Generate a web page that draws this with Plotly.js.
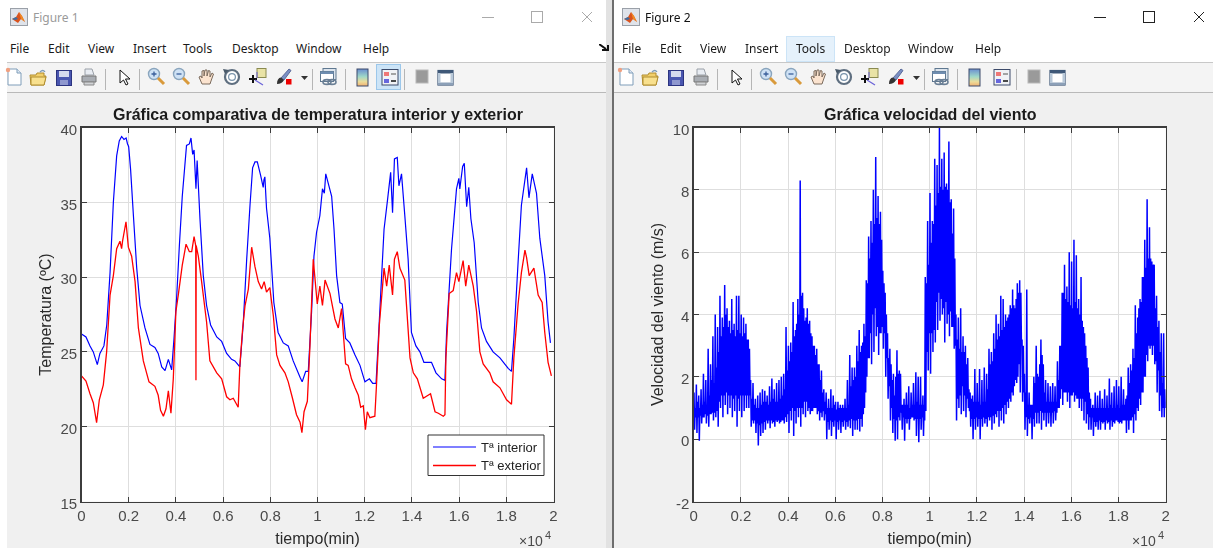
<!DOCTYPE html>
<html><head><meta charset="utf-8">
<script src="https://cdn.plot.ly/plotly-3.0.1.min.js"></script>
<style>
html,body{margin:0;padding:0;background:#fff;width:1213px;height:548px;overflow:hidden}
#stage{position:absolute;left:0;top:0;width:1213px;height:548px;filter:blur(0.35px)}
#chrome{position:absolute;left:0;top:0;width:1213px;height:548px;overflow:hidden;font-family:"Noto Sans","Open Sans",sans-serif}
#plot{position:absolute;left:0;top:0;width:1213px;height:548px}
.m{position:absolute;font-size:12px;line-height:16px;color:#1a1a1a;white-space:nowrap}
.b{position:absolute}
.b svg{display:block}
</style></head><body>
<div id="stage"><div id="chrome"></div><div id="plot"></div></div>
<script>
// ---- Figure 1: temperature (minutes, ºC) ----
const interiorX=[0,190,360,500,670,780,950,1070,1210,1350,1490,1600,1700,1800,1890,1950,1980,2000,2080,2200,2340,2480,2690,2900,3110,3250,3400,3540,3680,3820,3920,4030,4150,4270,4450,4570,4640,4710,4770,4850,4900,5020,5160,5300,5470,5730,5940,6150,6360,6500,6710,6850,7000,7140,7250,7350,7450,7590,7700,7730,7770,7840,7980,8150,8330,8550,8760,8970,9260,9350,9500,9610,9750,9850,9960,10100,10210,10290,10350,10450,10600,10700,10810,10950,11050,11190,11370,11590,11800,12010,12200,12340,12480,12580,12820,12970,13100,13180,13260,13380,13450,13560,13700,13840,13980,14170,14340,14510,14830,15020,15260,15400,15470,15680,15890,15990,16030,16150,16220,16320,16410,16500,16640,16810,16950,17160,17440,17730,18080,18220,18320,18500,18640,18860,18960,19100,19280,19420,19630,19770,19870];
const interiorT=[26.2,26,25.4,25,24.15,24.9,25.4,26.8,30.3,35,38.1,39.1,39.4,39.2,39.3,38.9,38.8,38.7,37.2,34.1,30.6,28.1,26.6,25.5,25.3,24.9,24,23.75,24.5,23.8,25.9,28.6,32.2,35.4,38.8,38.9,39.3,38.2,38.5,35.9,37.8,33.9,30.1,28.1,26.8,26,25.7,24.9,24.5,24.4,24,26.8,31.2,34.8,37.3,37.7,37.7,36.8,36,36.5,36.7,34.6,32.6,28.3,26.3,25.6,25.4,24.4,23.3,23,23.7,23.7,27.7,31.4,33,34.1,35.9,35.6,36.9,36.3,35.4,33.2,30.1,28.3,28.2,25.9,25.6,24.8,24.1,23,23.2,22.9,22.9,25.9,33.2,35.2,37,34.3,37.9,38,36.1,36.9,34.1,31.2,26.3,25.4,25,24.3,24.3,23.6,23.2,23.1,26.3,31.9,35.9,36.6,35.9,37.4,37.6,34.7,36,33.9,32.3,28.3,26.6,25.7,25,24.6,23.9,23.7,25.9,31,34.8,37.3,35.3,36.9,35.6,32.6,30.1,27,25.6];
const exteriorX=[0,190,360,500,640,755,925,1065,1210,1350,1490,1630,1700,1740,1885,1985,2125,2270,2410,2620,2860,3110,3250,3350,3470,3580,3680,3790,3890,4000,4100,4270,4430,4570,4670,4770,4840,4850,4860,4950,5090,5300,5440,5730,5940,6150,6290,6430,6640,6710,6830,6930,7070,7210,7350,7490,7630,7740,7840,7980,8130,8270,8410,8620,8760,8940,9110,9260,9340,9430,9570,9680,9820,9990,10100,10210,10320,10530,10740,10880,11020,11120,11190,11300,11440,11590,11730,11830,11940,12030,12110,12220,12430,12500,12620,12820,12930,13040,13180,13260,13380,13490,13700,13920,14060,14230,14480,14790,14980,15120,15330,15400,15440,15580,15750,15890,15990,16170,16280,16410,16600,16740,16880,17020,17300,17440,17730,18010,18220,18320,18500,18640,18790,18860,18970,19170,19350,19520,19630,19770,19910];
const exteriorT=[23.4,23.05,22.2,21.6,20.27,21.8,22.8,25,28.8,30.1,31.9,32.4,31.9,32.4,33.7,32,31.4,29.7,26.6,24.4,23,22.7,22.1,21.1,20.7,21.2,22.4,20.9,23.2,27.7,28.8,30.8,32.2,31.7,31.7,32.7,32.1,23.1,32.1,31.4,29.7,27,24.4,23.6,23.2,22,21.8,21.9,21.3,24.1,26.6,28.1,29.2,32,30.7,29.7,29.2,29.7,29,29.3,27.4,24.8,24.1,23.6,23,21.9,20.8,20.3,19.6,21,21.7,25.4,31.2,28.2,29.4,28.1,29.8,28.9,27.2,26.6,27.9,25.7,24.2,24.1,23.2,22.6,22.1,21.3,21.4,19.8,21,20.6,20.7,22.8,26.8,30.6,29.4,30.8,28.8,31.2,31.7,30.6,29.8,24.6,23.6,23.2,21.9,22.2,21,20.9,20.7,20.8,24.6,28.9,29.1,30.3,29.7,31.1,29.4,30.8,29.4,27.7,25,24.2,23.6,23,22.6,21.8,21.5,24.6,28.2,30.3,31.8,31.3,30.1,30.6,28.8,28.3,26.3,24.3,23.4];
// ---- Figure 2: wind speed. Spike tips, spike troughs and the edges of the solid core of the dense trace, one reading of each every windStep min ----
const windStart=50, windStep=100;
const windHigh=[1.5,1.75,1.4,1.6,2.1,1.9,2.9,2.4,3.3,4.0,
3.6,4.6,3.9,4.95,4.2,3.8,4.5,3.7,4.6,4.6,
4.0,3.9,3.7,3.2,1.9,1.8,1.3,1.4,1.5,1.6,
1.55,1.4,1.7,1.95,1.6,1.8,1.9,2.0,2.1,3.6,
3.0,3.1,4.4,3.5,4.5,8.3,4.7,3.8,4.2,3.8,
3.3,3.0,2.9,2.4,2.2,1.6,1.5,1.3,1.6,1.4,
1.2,1.2,1.1,1.1,1.3,1.9,2.7,2.3,2.3,3.0,
3.5,3.0,3.7,5.1,6.5,7.0,8.0,9.05,7.8,7.3,
5.4,4.7,3.4,2.9,1.9,1.4,2.85,2.2,1.1,1.3,
1.5,1.7,1.5,1.8,2.15,2.0,2.0,1.4,5.2,7.0,
7.9,7.0,9.0,8.8,10.0,9.0,9.2,8.2,9.55,7.7,
7.4,4.0,3.9,4.2,3.3,3.0,2.6,1.5,1.4,2.25,
1.8,2.25,1.9,2.3,2.1,2.9,2.8,3.4,4.0,3.7,
4.6,4.5,4.0,3.9,4.3,4.8,4.2,5.0,5.1,3.2,
2.1,4.8,1.5,1.1,2.0,3.0,2.0,3.2,2.4,1.9,
1.8,1.7,1.8,1.7,2.5,3.0,4.7,5.6,4.9,6.0,
5.7,6.4,5.9,4.5,5.2,3.6,3.0,2.3,1.3,1.1,
1.5,1.4,1.55,1.3,1.6,1.4,1.95,1.5,1.7,1.9,
1.7,2.0,1.6,1.3,2.3,2.4,2.9,4.3,3.9,4.5,
5.2,6.4,7.7,6.8,5.7,5.6,4.6,3.8,3.4,3.4];
const windLow=[0.3,0.2,-0.05,0.5,0.7,0.5,0.4,0.8,0.6,0.7,
0.4,1.0,0.7,1.1,0.8,1.0,0.7,0.9,0.4,0.9,
0.7,0.9,1.0,1.0,0.4,0.5,0.2,-0.2,0.1,0.2,
0.3,0.5,0.35,0.5,0.4,0.55,0.5,0.6,0.5,0.55,
0.2,0.6,0.1,0.5,0.7,0.4,0.8,0.7,0.9,0.8,
0.9,1.0,0.8,0.6,0.7,0.6,0.0,0.3,0.1,0.4,
0.0,0.3,0.2,0.4,0.3,0.4,0.35,0.1,0.3,0.3,
0.25,0.4,1.0,2.0,2.6,2.4,2.8,3.3,2.7,3.4,
2.9,2.0,1.3,0.6,0.2,-0.05,0.0,0.6,0.3,-0.05,
0.5,0.3,0.7,0.6,0.1,-0.1,0.3,0.1,0.9,2.2,
2.1,2.8,3.1,3.5,3.8,4.0,3.1,3.7,3.3,3.6,
2.9,0.6,1.0,0.8,0.9,0.7,1.0,0.4,0.0,0.3,
0.4,0.0,0.4,0.5,0.4,0.6,0.3,0.5,0.7,0.4,
0.6,0.5,0.8,1.0,1.2,1.4,1.9,2.0,1.5,1.2,
0.3,0.1,0.5,0.0,0.4,0.5,0.5,0.3,0.6,0.4,
0.5,0.4,0.5,0.6,1.0,1.3,1.1,1.5,1.2,1.0,
1.4,1.2,1.3,1.0,0.9,0.6,0.5,0.3,0.3,0.1,
0.4,0.3,0.3,0.5,0.3,0.5,0.3,0.4,0.5,0.6,
0.5,0.5,0.6,0.2,0.3,0.6,0.2,0.6,0.9,1.1,
1.5,2.0,2.5,2.9,2.7,2.4,1.5,0.9,0.7,0.7];
const windCoreHigh=[1.0,1.2,1.0,1.1,1.2,1.1,1.4,1.9,1.8,2.3,
2.8,3.3,3.6,4.0,3.6,3.4,3.5,3.3,3.5,3.4,
3.3,3.4,3.2,2.9,1.3,1.1,1.0,1.0,1.1,1.2,
1.2,1.1,1.2,1.3,1.2,1.2,1.3,1.4,1.6,2.2,
2.5,2.8,3.3,3.7,4.0,4.6,4.2,3.9,3.7,3.4,
3.0,2.7,2.4,1.9,1.5,1.2,1.0,1.0,1.0,1.1,
0.95,1.0,1.0,1.0,1.0,1.1,1.7,1.9,2.0,2.5,
2.8,3.1,3.3,5.0,5.8,6.3,6.9,7.1,6.9,6.4,
5.0,4.0,2.6,2.4,2.1,2.0,2.1,2.1,1.1,1.1,
1.1,1.0,1.1,1.1,1.2,1.1,1.1,1.1,5.0,5.6,
6.3,6.9,7.5,7.9,8.1,8.0,8.1,8.0,7.6,6.6,
5.8,3.2,2.9,2.8,2.8,2.4,1.6,1.3,1.2,1.2,
1.2,1.1,1.2,1.2,1.6,2.4,2.5,2.9,3.2,3.3,
3.5,3.6,3.8,4.0,4.2,4.3,4.5,4.7,4.7,3.0,
1.5,1.1,1.1,1.1,1.8,2.1,2.4,2.7,1.5,1.2,
1.2,1.2,1.2,1.2,1.9,3.0,4.7,4.5,4.4,4.3,
4.2,4.4,4.2,4.0,3.8,3.4,2.6,1.5,1.0,1.0,
1.0,1.0,1.0,1.0,1.0,1.0,1.1,1.0,1.0,1.1,
1.0,1.1,1.1,1.4,1.8,2.2,2.6,3.4,4.2,4.4,
5.2,5.5,5.8,5.8,5.6,4.2,3.6,2.8,1.8,1.6];
const windCoreLow=[0.7,0.7,0.75,0.7,0.8,0.75,0.8,0.85,0.85,0.9,
1.2,1.4,1.4,1.5,1.4,1.4,1.3,1.4,1.3,1.4,
1.4,1.4,1.4,1.4,0.6,0.6,0.5,0.45,0.5,0.55,
0.6,0.6,0.6,0.55,0.6,0.6,0.55,0.6,0.7,0.8,
0.9,1.0,0.9,1.0,1.0,1.0,1.2,1.2,1.0,0.9,
1.0,1.0,0.9,0.85,0.9,0.8,0.55,0.6,0.55,0.6,
0.55,0.6,0.55,0.6,0.55,0.6,0.65,0.6,0.6,0.65,
0.65,0.8,1.5,2.6,3.4,4.0,4.2,3.6,3.4,3.6,
3.4,2.6,1.7,1.0,0.65,0.6,0.7,0.85,0.7,0.65,
0.65,0.65,0.7,0.65,0.65,0.65,0.7,0.6,2.8,3.4,
3.4,3.5,4.4,4.7,4.5,4.2,4.4,4.0,4.1,3.6,
3.0,1.3,1.4,1.7,1.4,1.3,0.9,0.65,0.65,0.7,
0.65,0.65,0.7,0.65,0.7,0.7,0.75,0.8,0.9,0.9,
1.0,1.1,1.2,1.3,1.5,1.7,1.8,2.4,3.0,1.5,
0.7,0.65,0.7,0.65,0.85,0.85,0.9,0.85,0.85,0.85,
0.85,0.85,0.9,0.85,1.0,1.6,1.5,1.5,1.5,1.4,
1.5,1.4,1.3,1.3,1.3,1.2,0.8,0.7,0.7,0.55,
0.55,0.6,0.55,0.55,0.6,0.55,0.6,0.55,0.6,0.55,
0.55,0.6,0.6,0.6,0.6,0.7,0.8,1.0,1.3,1.5,
2.0,2.7,3.0,3.0,3.0,2.5,2.2,1.4,1.0,1.0];
// ---- labels ----
const xTickVals=[0,2000,4000,6000,8000,10000,12000,14000,16000,18000,20000];
const xTickText=['0','0.2','0.4','0.6','0.8','1','1.2','1.4','1.6','1.8','2'];
const tempTicks=[15,20,25,30,35,40];
const windTicks=[-2,0,2,4,6,8,10];
const seriesNames=['Tª interior','Tª exterior'];
const menuItems=['File','Edit','View','Insert','Tools','Desktop','Window','Help'];
const menuLeft=[10,48,88,133,183,232,296,363];
const menuRight=[622,660,700,745,796,844,908,975];

// ---- window chrome ----
const chrome=document.getElementById('chrome');
function div(l,t,w,h,c,extra){const d=document.createElement('div');d.className='b';d.style.cssText=`left:${l}px;top:${t}px;width:${w}px;height:${h}px;background:${c};${extra||''}`;chrome.appendChild(d);return d;}
function text(s,l,t,c){const d=document.createElement('div');d.className='m';d.textContent=s;d.style.left=l+'px';d.style.top=t+'px';if(c)d.style.color=c;chrome.appendChild(d);}
function svgAt(l,t,w,h,inner){const s=document.createElement('div');s.className='b';s.style.left=l+'px';s.style.top=t+'px';s.innerHTML=`<svg width="${w}" height="${h}" viewBox="0 0 ${w} ${h}" xmlns="http://www.w3.org/2000/svg">${inner}</svg>`;chrome.appendChild(s);}
const logo='<rect x="0.5" y="0.5" width="17" height="17" fill="#dfe3ea" stroke="#9aa0a8"/><path d="M2 11 L6 9 L9 4 L12 8 L15 14 L11 11 L8 15 Z" fill="#d9531e"/><path d="M2 11 L6 9 L8 11 L5 12 Z" fill="#3a6ea5"/><path d="M9 4 L12 8 L15 14 L11 11Z" fill="#f08a24"/>';
const icons={
 doc:'<path d="M3 2H12L16 6V18H3Z" fill="#fff" stroke="#7f9db9"/><path d="M12 2V6H16" fill="#dfe8f3" stroke="#7f9db9"/><circle cx="3" cy="3" r="2.2" fill="#f0a080"/>',
 folder:'<path d="M1 7H7L8 5H15V8H17L15 17H2Z" fill="#f2cf6a" stroke="#b08d2e"/><path d="M2 9H17L15 17H2Z" fill="#f8e08e" stroke="#b08d2e"/><path d="M11 4Q14 1 16 4" fill="none" stroke="#7f9db9" stroke-width="1.3"/>',
 save:'<rect x="1.5" y="2.5" width="15" height="15" fill="#4a56b0" stroke="#2c3480"/><rect x="4" y="3" width="10" height="6" fill="#d4d8ee"/><rect x="5" y="12" width="8" height="5" fill="#8f98cf"/>',
 print:'<path d="M5 2H12L14 8H5Z" fill="#e8ecf2" stroke="#9aa0a8"/><path d="M2 9H16V15H2Z" fill="#a9adb3" stroke="#777"/><path d="M4 15H14V18H4Z" fill="#d0d2d5" stroke="#888"/>',
 arrow:'<path d="M3 2V15L6.5 12L9 17L11 16L8.5 11L13 11Z" fill="#fff" stroke="#111"/>',
 zin:'<circle cx="8" cy="7" r="5.5" fill="#cfe2f5" stroke="#8aa5bd" stroke-width="1.4"/><path d="M5.5 7H10.5M8 4.5V9.5" stroke="#3a5f9a" stroke-width="1.3"/><path d="M12 11L18 17" stroke="#d99a3c" stroke-width="3"/>',
 zout:'<circle cx="8" cy="7" r="5.5" fill="#cfe2f5" stroke="#8aa5bd" stroke-width="1.4"/><path d="M5.5 7H10.5" stroke="#3a5f9a" stroke-width="1.3"/><path d="M12 11L18 17" stroke="#d99a3c" stroke-width="3"/>',
 hand:'<path d="M5 17L2 10L4 9L5 11V4L7 3.5V9L8 3L10 3V9L11.5 3.5L13 4V10L15 6L16.5 7L14 14L13 17Z" fill="#fbe3cf" stroke="#7a6a5c"/>',
 rot:'<circle cx="10" cy="10" r="7" fill="#fff" stroke="#5f6f80" stroke-width="2.2"/><circle cx="10" cy="10" r="3.4" fill="#fff" stroke="#7a94ac" stroke-width="1.2"/><path d="M1 2L7 3L3 7Z" fill="#4a5a6a"/>',
 cursor:'<rect x="9" y="1.5" width="9" height="9" fill="#e9e3a6" stroke="#8a8a50"/><path d="M1 12H9M5 8V16" stroke="#111" stroke-width="2"/><path d="M7 13L15 18" stroke="#6a62d8" stroke-width="1.2"/><path d="M9 5V11" stroke="#6a62d8"/>',
 brush:'<path d="M7 11L15 2L17 3.5L10 13Z" fill="#7a8fc4" stroke="#5a6a9a"/><path d="M3 17Q3 11 7 10.5L10 13Q8 17 3 17Z" fill="#333"/><rect x="12" y="12" width="5.5" height="5.5" fill="#ee0000"/>',
 link:'<rect x="4" y="1.5" width="13" height="11" fill="#dde5ee" stroke="#5f7890"/><rect x="1.5" y="4.5" width="13" height="10" fill="#fff" stroke="#5f7890"/><rect x="1.5" y="4.5" width="13" height="2.5" fill="#6f8db0"/><ellipse cx="8" cy="15" rx="4" ry="2.4" fill="none" stroke="#6a7f95" stroke-width="1.6"/><ellipse cx="13" cy="15" rx="4" ry="2.4" fill="none" stroke="#6a7f95" stroke-width="1.6"/>',
 cbar:'<defs><linearGradient id="g" x1="0" y1="0" x2="0" y2="1"><stop offset="0" stop-color="#6a8ed0"/><stop offset=".45" stop-color="#9fd8c8"/><stop offset=".75" stop-color="#ecdc9a"/><stop offset="1" stop-color="#f0b070"/></linearGradient></defs><rect x="1" y="1" width="11" height="17" fill="url(#g)" stroke="#3c4a6a"/>',
 leg:'<rect x="1" y="1.5" width="16" height="15.5" fill="#f0f2f6" stroke="#3c4a6a"/><rect x="3" y="4" width="5" height="4" fill="#ee7777"/><rect x="3" y="11" width="5" height="4" fill="#6666dd"/><path d="M10 6H15" stroke="#888" stroke-width="1.5"/><path d="M10 13H15" stroke="#111" stroke-width="1.5"/>',
 gray:'<rect x="1" y="2" width="12" height="13" fill="#9a9a9a" stroke="#b8b8b8"/>',
 win:'<rect x="1" y="1.5" width="15" height="14.5" fill="#fff" stroke="#3f5878" stroke-width="1.2"/><rect x="1" y="1.5" width="15" height="3" fill="#3f5878"/><rect x="1" y="13.5" width="15" height="2.5" fill="#8ca0b8"/><rect x="1" y="4" width="2.5" height="10" fill="#b8c8d8"/><rect x="13.5" y="4" width="2.5" height="10" fill="#b8c8d8"/>'
};
const toolPos=[['doc',5,67],['folder',29,68],['save',55,68],['print',80,67],['arrow',117,68],['zin',146,67],['zout',171,67],['hand',197,67],['rot',222,67],['cursor',248,67],['brush',274,67],['link',319,67],['cbar',356,68],['leg',381,68],['gray',415,68],['win',437,69]];
const toolSeps=[105,139,312,345,404];
function drawWindow(left,right,off,title,active,menuX){
  div(left,0,right-left,62,'#fff');
  div(left,62,right-left,1,'#c8c8c8');
  div(left,63,right-left,29,'#f4f4f4');
  div(left,92,right-left,1,'#b9b9b9');
  div(left,93,right-left,455,'#f0f0f0');
  svgAt(off+10,8,18,18,logo);
  text(title,off+33,10,active?'#111':'#9a9a9a');
  menuItems.forEach((m,i)=>text(m,menuX[i],41));
  if(!active){div(off+376,64,25,26,'#cce4f7','border:1px solid #9cc7ea;box-sizing:border-box');}
  toolPos.forEach(([k,x,y])=>svgAt(off+x,y,20,20,icons[k]));
  toolSeps.forEach(x=>div(off+x,69,1,21,'#b5b5b5'));
  svgAt(off+301,76,7,5,'<path d="M0 0H7L3.5 4Z" fill="#333"/>');
  const c=active?'#222':'#aaa';
  svgAt(off+482,10,110,14,`<path d="M0 7.5H12" stroke="${c}"/><rect x="49.5" y="1.5" width="11" height="11" fill="none" stroke="${c}"/><path d="M100 2L110 12M110 2L100 12" stroke="${c}"/>`);
}
drawWindow(7,612,0,'Figure 1',false,menuLeft);
drawWindow(614,1213,612,'Figure 2',true,menuRight);
div(786,36,49,26,'#e5f1fb','border:1px solid #cce4f7;box-sizing:border-box');
text('Tools',796,41);
div(606,0,6,548,'#e2e2e2');
div(612,0,2,548,'#6e6e6e');
svgAt(599,44,11,9,'<path d="M0 0L7 5M3 6H9V1" fill="none" stroke="#111" stroke-width="2"/>');

// ---- chart ----
const W=1213,H=548;
const sans='"Liberation Sans",Arial,sans-serif';
const axisColor='#3c3c3c', tickFont={family:sans,size:15,color:'#4a4a4a'};
const titleFont={family:sans,size:16,color:'#2a2a2a'};
function xAxis(dom){return {domain:dom,range:[0,20000],tickmode:'array',tickvals:xTickVals,ticktext:xTickText,tickangle:0,
  ticks:'inside',ticklen:5,tickcolor:axisColor,tickwidth:1,showline:true,linecolor:axisColor,linewidth:1.3,mirror:'ticks',
  showgrid:true,gridcolor:'#dedede',gridwidth:1,zeroline:false,tickfont:tickFont,fixedrange:true,
  title:{text:'tiempo(min)',font:titleFont,standoff:10}};}
function yAxis(dom,r,t,label,anchor){return {domain:dom,range:r,tickmode:'array',tickvals:t,ticktext:t.map(String),anchor:anchor,
  ticks:'inside',ticklen:5,tickcolor:axisColor,tickwidth:1,showline:true,linecolor:axisColor,linewidth:1.3,mirror:'ticks',
  showgrid:true,gridcolor:'#dedede',gridwidth:1,zeroline:false,tickfont:tickFont,fixedrange:true,ticklabelshift:2,
  title:{text:label,font:titleFont,standoff:5}};}
const yDom=[1-501.5/H,1-127.5/H];
const windX=[],windY=[];
windHigh.forEach((v,i)=>{
  const c=windStart+windStep*i;
  windX.push(c-windStep*3/8,c-windStep/8,c+windStep/8,c+windStep*3/8);
  windY.push(v,windLow[i],windCoreHigh[i],windCoreLow[i]);
});
const traces=[
 {x:interiorX,y:interiorT,name:seriesNames[0],mode:'lines',line:{color:'#0000ff',width:1.2,simplify:false},xaxis:'x',yaxis:'y'},
 {x:exteriorX,y:exteriorT,name:seriesNames[1],mode:'lines',line:{color:'#ff0000',width:1.3,simplify:false},xaxis:'x',yaxis:'y'},
 {x:windX,y:windY,mode:'lines',showlegend:false,line:{color:'#0000ff',width:1.5,simplify:false},xaxis:'x2',yaxis:'y2'}
];
function note(x,y,t,size,color,anchor){return {xref:'paper',yref:'paper',x:x/W,y:1-y/H,text:t,showarrow:false,font:{family:sans,size:size,color:color},xanchor:anchor,yanchor:'middle'};}
const legendFont=13;
const layout={width:W,height:H,margin:{l:0,r:0,t:0,b:0},paper_bgcolor:'rgba(0,0,0,0)',plot_bgcolor:'#fff',showlegend:false,
 xaxis:xAxis([81.5/W,553.5/W]),yaxis:yAxis(yDom,[15,40],tempTicks,'Temperatura (ºC)','x'),
 xaxis2:Object.assign(xAxis([693.7/W,1165.7/W]),{anchor:'y2'}),yaxis2:yAxis(yDom,[-2,10],windTicks,'Velocidad del viento (m/s)','x2'),
 shapes:[
  {type:'rect',xref:'paper',yref:'paper',x0:428/W,x1:544/W,y0:1-475.5/H,y1:1-435/H,fillcolor:'#fff',line:{color:'#333',width:1}},
  {type:'line',xref:'paper',yref:'paper',x0:433/W,x1:476/W,y0:1-447/H,y1:1-447/H,line:{color:'#0000ff',width:1.2}},
  {type:'line',xref:'paper',yref:'paper',x0:433/W,x1:476/W,y0:1-465.5/H,y1:1-465.5/H,line:{color:'#ff0000',width:1.3}}
 ],
 annotations:[
  note(318,114,'<b>Gráfica comparativa de temperatura interior y exterior</b>',16,'#1a1a1a','center'),
  note(930,114,'<b>Gráfica velocidad del viento</b>',16,'#1a1a1a','center'),
  note(478.5,447,seriesNames[0],legendFont,'#222','left'),
  note(478.5,465.5,seriesNames[1],legendFont,'#222','left'),
  note(545,541,'×10',14,'#4a4a4a','right'),
  note(543,535,'4',11,'#4a4a4a','left'),
  note(1157.5,541,'×10',14,'#4a4a4a','right'),
  note(1155.5,535,'4',11,'#4a4a4a','left')
 ]};
Plotly.newPlot('plot',traces,layout,{displayModeBar:false,staticPlot:true});
</script>
</body></html>
